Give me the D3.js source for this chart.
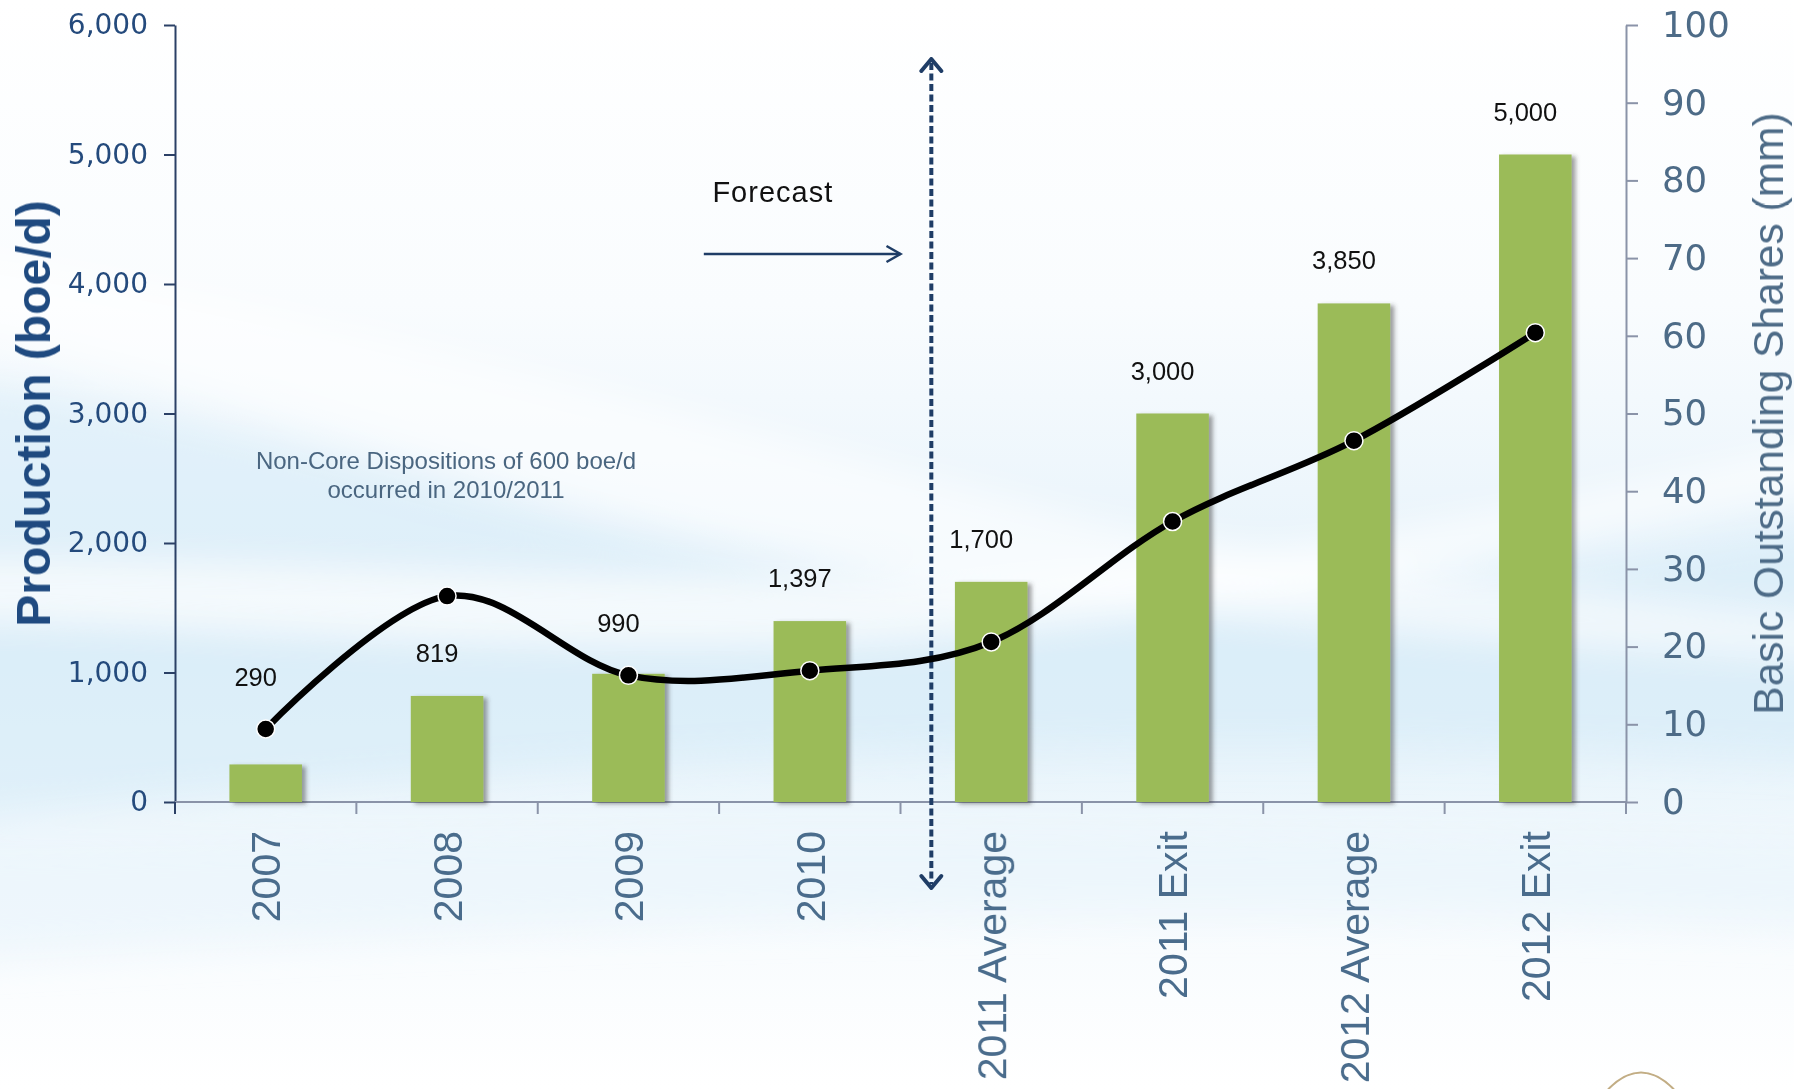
<!DOCTYPE html>
<html>
<head>
<meta charset="utf-8">
<script src="https://cdn.jsdelivr.net/npm/d3@7"></script>
<style>
    body { margin: 0; background: #fff; }
    svg { display: block; }
    text { font-family: 'Liberation Sans', Arial, sans-serif; }
</style>
</head>
<body>
<script>
const categories = ['2007', '2008', '2009', '2010', '2011 Average', '2011 Exit', '2012 Average', '2012 Exit']
const production = [290, 819, 990, 1397, 1700, 3000, 3850, 5000]
const shares = [9.4, 26.5, 16.3, 16.9, 20.6, 36.1, 46.5, 60.4]
const productionTicks = [0, 1000, 2000, 3000, 4000, 5000, 6000]
const shareTicks = [0, 10, 20, 30, 40, 50, 60, 70, 80, 90, 100]
const noteLines = ['Non-Core Dispositions of 600 boe/d', 'occurred in 2010/2011']

const width = 1794
const height = 1089
const plot = {left: 175, right: 1626, top: 25, bottom: 802}
const navy = '#1f3d66'

const svg = d3.select('body')
    .append('svg')
    .attr('width', width)
    .attr('height', height)

const defs = svg.append('defs')

// soft blue backdrop
const bg = defs.append('linearGradient')
    .attr('id', 'bg')
    .attr('x1', 0).attr('y1', 0).attr('x2', 0).attr('y2', 1)
bg.selectAll('stop')
    .data([[0, '#ffffff'], [0.28, '#f9fcfe'], [0.45, '#edf6fc'], [0.6, '#e2f1fa'], [0.7, '#e8f4fb'], [0.8, '#f5fafd'], [1, '#ffffff']])
    .enter()
    .append('stop')
    .attr('offset', d => d[0])
    .attr('stop-color', d => d[1])

defs.append('filter')
    .attr('id', 'blur')
    .append('feGaussianBlur')
    .attr('stdDeviation', 18)

const shadow = defs.append('filter')
    .attr('id', 'shadow')
    .attr('x', '-20%').attr('y', '-20%').attr('width', '150%').attr('height', '150%')
shadow.append('feDropShadow')
    .attr('dx', 4)
    .attr('dy', 2)
    .attr('stdDeviation', 2)
    .attr('flood-color', '#404040')
    .attr('flood-opacity', 0.5)

svg.append('rect')
    .attr('width', width)
    .attr('height', height)
    .attr('fill', 'url(#bg)')

const waves = svg.append('g').attr('filter', 'url(#blur)')
waves.append('path')
    .attr('d', 'M-50,380 C300,420 600,560 1000,600 C1300,630 1600,560 1850,520 L1850,760 C1400,740 900,720 -50,820 Z')
    .attr('fill', '#d6ebf7')
    .attr('opacity', 0.55)
waves.append('path')
    .attr('d', 'M-50,560 C400,560 800,600 1200,560 C1500,520 1700,470 1850,440 L1850,480 C1600,520 1300,610 900,640 C500,660 200,620 -50,620 Z')
    .attr('fill', '#ffffff')
    .attr('opacity', 0.7)
waves.append('path')
    .attr('d', 'M-50,250 C300,300 700,420 1100,520 C1300,560 1600,600 1850,620 L1850,660 C1400,640 900,600 500,480 C300,420 100,360 -50,330 Z')
    .attr('fill', '#ffffff')
    .attr('opacity', 0.6)
waves.append('path')
    .attr('d', 'M-50,840 C400,830 900,820 1850,840 L1850,930 C1200,900 600,920 -50,960 Z')
    .attr('fill', '#e8f4fb')
    .attr('opacity', 0.6)

const x = d3.scaleBand()
    .domain(categories)
    .range([plot.left, plot.right])
    .paddingInner(0.6)
    .paddingOuter(0.3)

const y = d3.scaleLinear()
    .domain([0, 6000])
    .range([plot.bottom, plot.top])

const y2 = d3.scaleLinear()
    .domain([0, 100])
    .range([plot.bottom, plot.top])

const step = x.step()
const cx = c => x(c) + x.bandwidth() / 2

// left axis
const leftAxis = svg.append('g')
    .attr('transform', `translate(${plot.left},0)`)
    .call(d3.axisLeft(y)
        .tickValues(productionTicks)
        .tickFormat(d3.format(','))
        .tickSize(11)
        .tickSizeOuter(0)
        .tickPadding(16))
leftAxis.select('.domain').attr('stroke', '#2b4066').attr('stroke-width', 2)
leftAxis.selectAll('.tick line').attr('stroke', '#2b4066').attr('stroke-width', 2)
leftAxis.selectAll('.tick text')
    .attr('fill', '#244a7c')
    .style('font-family', "'DejaVu Sans', sans-serif")
    .style('font-size', '28px')

// right axis
const rightAxis = svg.append('g')
    .attr('transform', `translate(${plot.right},0)`)
    .call(d3.axisRight(y2)
        .tickValues(shareTicks)
        .tickSize(12)
        .tickSizeOuter(0)
        .tickPadding(24))
rightAxis.select('.domain').attr('stroke', '#8a93a8').attr('stroke-width', 2)
rightAxis.selectAll('.tick line').attr('stroke', '#8a93a8').attr('stroke-width', 2)
rightAxis.selectAll('.tick text')
    .attr('fill', '#4d6b87')
    .style('font-family', "'DejaVu Sans', sans-serif")
    .style('font-size', '35.5px')

// bottom axis with ticks between categories
const bottom = svg.append('g')
bottom.append('line')
    .attr('x1', plot.left).attr('x2', plot.right)
    .attr('y1', plot.bottom).attr('y2', plot.bottom)
    .attr('stroke', '#8a93a8')
    .attr('stroke-width', 2)
bottom.selectAll('.sep')
    .data(d3.range(categories.length + 1))
    .enter()
    .append('line')
    .attr('x1', i => plot.left + i * step)
    .attr('x2', i => plot.left + i * step)
    .attr('y1', plot.bottom)
    .attr('y2', plot.bottom + 12)
    .attr('stroke', i => i === 0 ? '#2b4066' : '#8a93a8')
    .attr('stroke-width', 2)
bottom.selectAll('.cat')
    .data(categories)
    .enter()
    .append('text')
    .attr('transform', d => `translate(${cx(d)},${plot.bottom + 29}) rotate(-90)`)
    .attr('dy', '0.36em')
    .attr('text-anchor', 'end')
    .attr('fill', '#4a6c8c')
    .style('font-size', '41px')
    .text(d => d)

// axis titles
svg.append('text')
    .attr('transform', `translate(33,${(plot.top + plot.bottom) / 2}) rotate(-90)`)
    .attr('dy', '0.36em')
    .attr('text-anchor', 'middle')
    .attr('fill', '#1f4a80')
    .style('font-size', '48px')
    .style('font-weight', 'bold')
    .text('Production (boe/d)')

svg.append('text')
    .attr('transform', `translate(1768,${(plot.top + plot.bottom) / 2}) rotate(-90)`)
    .attr('dy', '0.36em')
    .attr('text-anchor', 'middle')
    .attr('fill', '#4d6b87')
    .style('font-size', '42.5px')
    .text('Basic Outstanding Shares (mm)')

// bars
const rows = categories.map((c, i) => ({cat: c, prod: production[i], shares: shares[i]}))

svg.append('g')
    .selectAll('rect')
    .data(rows)
    .enter()
    .append('rect')
    .attr('x', d => x(d.cat))
    .attr('y', d => y(d.prod))
    .attr('width', x.bandwidth())
    .attr('height', d => y(0) - y(d.prod))
    .attr('fill', '#9bbb59')
    .attr('filter', 'url(#shadow)')

// forecast divider
const divX = x(categories[4]) - step * 0.13
const topTip = y(6000) + 34
const bottomTip = plot.bottom + 86

svg.append('line')
    .attr('x1', divX).attr('x2', divX)
    .attr('y1', topTip + 4).attr('y2', bottomTip - 4)
    .attr('stroke', navy)
    .attr('stroke-width', 4)
    .attr('stroke-dasharray', '7 3.5')

const chevron = (tipY, dir) => `M${divX - 10},${tipY + dir * 12} L${divX},${tipY} L${divX + 10},${tipY + dir * 12}`
svg.selectAll('.chev')
    .data([[topTip, 1], [bottomTip, -1]])
    .enter()
    .append('path')
    .attr('d', d => chevron(d[0], d[1]))
    .attr('fill', 'none')
    .attr('stroke', navy)
    .attr('stroke-width', 4)
    .attr('stroke-linecap', 'round')
    .attr('stroke-linejoin', 'round')

const arrowY = 254
const arrowEnd = x(categories[4]) - step * 0.3
svg.append('line')
    .attr('x1', cx(categories[3]) - 106)
    .attr('x2', arrowEnd)
    .attr('y1', arrowY).attr('y2', arrowY)
    .attr('stroke', navy)
    .attr('stroke-width', 2.5)
svg.append('path')
    .attr('d', `M${arrowEnd - 14},${arrowY - 8} L${arrowEnd},${arrowY} L${arrowEnd - 14},${arrowY + 8}`)
    .attr('fill', 'none')
    .attr('stroke', navy)
    .attr('stroke-width', 2.5)

svg.append('text')
    .attr('x', cx(categories[3]) - 37)
    .attr('y', 202)
    .attr('text-anchor', 'middle')
    .attr('fill', '#111')
    .style('font-size', '29px')
    .style('letter-spacing', '1px')
    .text('Forecast')

// shares line
const line = d3.line()
    .x(d => cx(d.cat))
    .y(d => y2(d.shares))
    .curve(d3.curveCardinal.tension(0))

svg.append('path')
    .datum(rows)
    .attr('d', line)
    .attr('fill', 'none')
    .attr('stroke', '#000')
    .attr('stroke-width', 6.5)
    .attr('stroke-linejoin', 'round')

svg.append('g')
    .selectAll('circle')
    .data(rows)
    .enter()
    .append('circle')
    .attr('cx', d => cx(d.cat))
    .attr('cy', d => y2(d.shares))
    .attr('r', 9)
    .attr('fill', '#000')
    .attr('stroke', '#fff')
    .attr('stroke-width', 1.5)

// value labels: above the bar, or above the marker when it sits just over the bar
const labelRef = d => {
    const top = y(d.prod)
    const mark = y2(d.shares) - 9
    return (mark < top && top - mark < 60) ? mark : top
}
svg.append('g')
    .selectAll('text')
    .data(rows)
    .enter()
    .append('text')
    .attr('x', d => cx(d.cat) - 10)
    .attr('y', d => labelRef(d) - 34)
    .attr('text-anchor', 'middle')
    .attr('fill', '#111')
    .style('font-size', '25.5px')
    .text(d => d3.format(',')(d.prod))

// note
svg.append('text')
    .attr('x', 446)
    .attr('y', 469)
    .attr('text-anchor', 'middle')
    .attr('fill', '#4a6680')
    .style('font-size', '24px')
    .selectAll('tspan')
    .data(noteLines)
    .enter()
    .append('tspan')
    .attr('x', 446)
    .attr('dy', (d, i) => i === 0 ? 0 : 29)
    .text(d => d)

// corner of the logo
svg.append('path')
    .attr('d', 'M1603,1095 Q1641,1050 1679,1095')
    .attr('fill', 'none')
    .attr('stroke', '#c2ad84')
    .attr('stroke-width', 2)
</script>
</body>
</html>
